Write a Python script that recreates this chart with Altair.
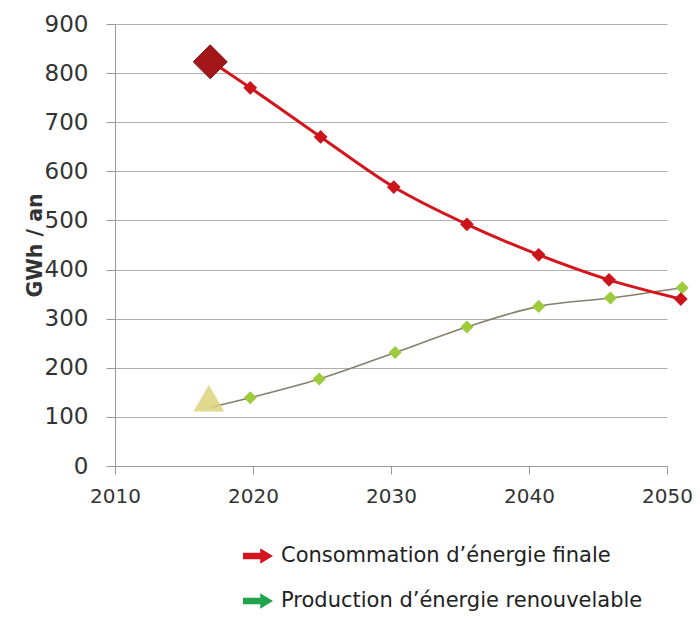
import altair as alt
import pandas as pd

# --- data ---
conso_years = [2017, 2019.8, 2024.9, 2030.2, 2035.5, 2040.7, 2045.8, 2051.0]
conso_values = [823, 770, 670, 568, 492, 430, 379, 340]

prod_years = [2017, 2019.8, 2024.8, 2030.3, 2035.5, 2040.7, 2045.9, 2051.1]
prod_values = [120, 139, 177, 231, 283, 325, 342, 363]

start_conso_year = [2016.9]
start_conso_value = [823]
start_prod_year = [2016.8]
start_prod_value = [138]

legend_labels = ["Consommation d’énergie finale", "Production d’énergie renouvelable"]
legend_colors = ["#d3161d", "#1fa34b"]

FONT = "DejaVu Sans"

conso = pd.DataFrame({"year": conso_years, "value": conso_values})
prod = pd.DataFrame({"year": prod_years, "value": prod_values})
start_c = pd.DataFrame({"year": start_conso_year, "value": start_conso_value})
start_p = pd.DataFrame({"year": start_prod_year, "value": start_prod_value})
leg = pd.DataFrame({"serie": legend_labels, "year": [2030, 2030], "value": [0, 0]})

xscale = alt.Scale(domain=[2010, 2050], nice=False, zero=False)
yscale = alt.Scale(domain=[0, 900], nice=False)

x_axis = alt.Axis(values=[2010, 2020, 2030, 2040, 2050], format="d", grid=False,
                  title=None, labelFontSize=20, labelFont=FONT, labelColor="#333333",
                  tickSize=8, tickColor="#999999", domainColor="#999999",
                  labelPadding=12, labelFlush=False)
y_axis = alt.Axis(values=list(range(0, 901, 100)), grid=True, gridColor="#b0b0b0",
                  title="GWh / an", titleFont=FONT, titleFontSize=20.5, titleFontWeight="bold",
                  titleColor="#333333", titleX=-70, titleY=221,
                  labelFontSize=23, labelFont=FONT, labelColor="#333333",
                  tickSize=9, tickColor="#999999", domainColor="#999999", labelPadding=18)

base_x = alt.X("year:Q", scale=xscale, axis=x_axis)
base_y = alt.Y("value:Q", scale=yscale, axis=y_axis)

prod_line = alt.Chart(prod).mark_line(interpolate="monotone", color="#86806a", strokeWidth=1.6).encode(
    x=base_x, y=base_y)
prod_pts = alt.Chart(prod.iloc[1:]).mark_point(shape="diamond", filled=True, size=170,
                                                 color="#9ccc3c", opacity=1).encode(x="year:Q", y="value:Q")
prod_start = alt.Chart(start_p).mark_point(shape="triangle-up", filled=True, size=950,
                                            color="#dcd27a", opacity=0.85).encode(x="year:Q", y="value:Q")

conso_line = alt.Chart(conso).mark_line(interpolate="monotone", color="#d3161d", strokeWidth=3).encode(
    x="year:Q", y="value:Q")
conso_pts = alt.Chart(conso.iloc[1:]).mark_point(shape="diamond", filled=True, size=190,
                                                   color="#cc141b", opacity=1).encode(x="year:Q", y="value:Q")
conso_start = alt.Chart(start_c).mark_point(shape="diamond", filled=True, size=1150,
                                             color="#a3161a", opacity=1, stroke="#7a1012",
                                             strokeWidth=1).encode(x="year:Q", y="value:Q")

arrow = "M-1,-0.22H0.15V-0.52L1,0L0.15,0.52V0.22H-1Z"
legend_layer = alt.Chart(leg).mark_point(filled=True, opacity=0, size=10).encode(
    x="year:Q", y="value:Q",
    color=alt.Color("serie:N", scale=alt.Scale(domain=legend_labels, range=legend_colors),
                    legend=alt.Legend(title=None, orient="none", legendX=128, legendY=517,
                                      symbolType=arrow, symbolSize=900, symbolOpacity=1,
                                      symbolStrokeWidth=0, labelFont=FONT, labelFontSize=21,
                                      labelColor="#222222", labelLimit=600, rowPadding=20,
                                      labelOffset=8, padding=0)))

chart = alt.layer(prod_line, prod_pts, prod_start, conso_line, conso_pts, conso_start, legend_layer).properties(
    width=552, height=442,
    autosize=alt.AutoSizeParams(type="none"),
    padding={"left": 107, "top": 16, "right": 25, "bottom": 145},
    background="white",
).configure_view(stroke=None)

chart.save("out.html", embed_options={"renderer": "svg", "actions": False})
